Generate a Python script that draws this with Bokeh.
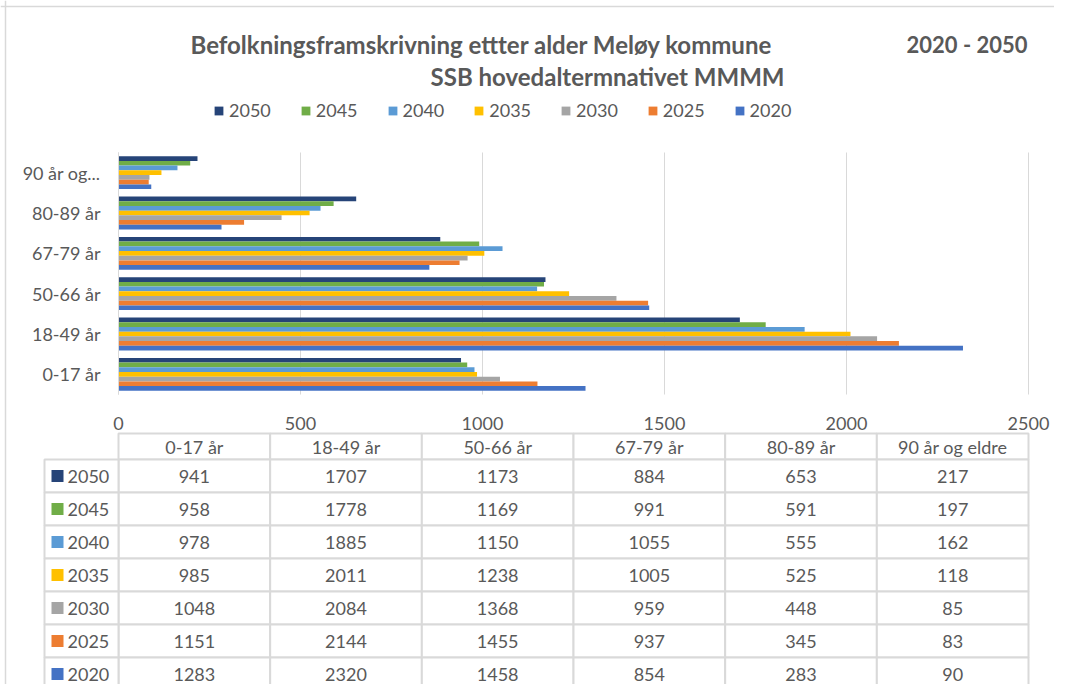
from bokeh.plotting import figure
from bokeh.models import (Range1d, Legend, LegendItem, Label, LinearAxis, FixedTicker, Span)
from bokeh.core.properties import value
from bokeh.embed import file_html
from bokeh.resources import INLINE

# ---------------- data ----------------
categories = ["0-17 år", "18-49 år", "50-66 år", "67-79 år", "80-89 år", "90 år og eldre"]
axis_labels = ["0-17 år", "18-49 år", "50-66 år", "67-79 år", "80-89 år", "90 år og..."]
years = ["2050", "2045", "2040", "2035", "2030", "2025", "2020"]
v2050 = [941, 1707, 1173, 884, 653, 217]
v2045 = [958, 1778, 1169, 991, 591, 197]
v2040 = [978, 1885, 1150, 1055, 555, 162]
v2035 = [985, 2011, 1238, 1005, 525, 118]
v2030 = [1048, 2084, 1368, 959, 448, 85]
v2025 = [1151, 2144, 1455, 937, 345, 83]
v2020 = [1283, 2320, 1458, 854, 283, 90]
series = [v2050, v2045, v2040, v2035, v2030, v2025, v2020]
colors = ["#264478", "#70AD47", "#5B9BD5", "#FFC000", "#A5A5A5", "#ED7D31", "#4472C4"]
x_ticks = [0, 500, 1000, 1500, 2000, 2500]

title1 = "Befolkningsframskrivning ettter alder Meløy kommune"
title2 = "SSB hovedaltermnativet MMMM"
title3 = "2020 - 2050"

FONT = "Lato"
TXT = "#595959"
GRID = "#D9D9D9"

# ---------------- layout constants (canvas pixels) ----------------
W, H = 1054, 684
PX0, PX1 = 118, 1028               # x pixel of 0 and of x_max
PLOT_TOP, PLOT_BOT = 152, 394      # y pixel range of the bar area
ROW_H = 33.0                       # table row height (px)
TBL_BOTTOM = 690                   # y pixel of table bottom
HDR_H = 26.0                       # header row height (px)
LBL_PX = 74                        # row-label column width (px)

x_max = x_ticks[-1]
u = x_max / (PX1 - PX0)            # data units per pixel
ncat = len(categories)
band = (PLOT_BOT - PLOT_TOP) / ncat

def cat_at(py):                    # category-index coordinate at pixel y
    return (PLOT_BOT - py) / band - 0.5

def row_at(py):                    # table row coordinate at pixel y
    return (TBL_BOTTOM - py) / ROW_H

p = figure(width=W, height=H,
           x_range=Range1d(-PX0 * u, (W - PX0) * u),
           y_range=Range1d(cat_at(H), cat_at(0)),
           x_axis_type=None, y_axis_type=None,
           min_border=0, min_border_left=0, min_border_right=0, min_border_top=0, min_border_bottom=0,
           output_backend="svg", toolbar_location=None)
p.extra_y_ranges = {"row": Range1d(row_at(H), row_at(0))}
p.outline_line_color = None
p.background_fill_color = "white"
p.border_fill_color = "white"

# chart border (top and left)
p.add_layout(Span(location=(5 - PX0) * u, dimension="height", line_color=GRID, line_width=1.5))
p.add_layout(Span(location=cat_at(6), dimension="width", line_color=GRID, line_width=1.5))

# gridlines
p.segment(x0=x_ticks, x1=x_ticks, y0=[-0.5] * len(x_ticks), y1=[ncat - 0.5] * len(x_ticks),
          line_color=GRID, line_width=1)

# bars
n = len(years)
bar_h = 0.815 / n
renderers = []
for j, (yr, s, col) in enumerate(zip(years, series, colors)):
    off = ((n - 1 - j) - (n - 1) / 2) * bar_h
    r = p.hbar(y=[i + off for i in range(ncat)], left=0, right=s, height=bar_h,
               fill_color=col, line_color=None)
    renderers.append(r)

# axes drawn inside the canvas
xa = LinearAxis(fixed_location=-0.5, ticker=FixedTicker(ticks=x_ticks), bounds=(0, x_max))
xa.axis_line_color = None
xa.major_tick_line_color = None
xa.minor_tick_line_color = None
xa.major_label_standoff = 16
xa.major_label_text_font = FONT
xa.major_label_text_font_size = "18px"
xa.major_label_text_color = TXT
p.add_layout(xa, "below")

ya = LinearAxis(fixed_location=0, ticker=FixedTicker(ticks=list(range(ncat))), bounds=(-0.5, ncat - 0.5))
ya.axis_line_color = GRID
ya.major_tick_line_color = None
ya.minor_tick_line_color = None
ya.major_label_standoff = 12
ya.major_label_text_font = FONT
ya.major_label_text_font_size = "18px"
ya.major_label_text_color = TXT
ya.major_label_overrides = {i: a for i, a in enumerate(axis_labels)}
p.add_layout(ya, "left")

# legend
legend = Legend(items=[LegendItem(label=y, renderers=[r]) for y, r in zip(years, renderers)],
                orientation="horizontal", location=(213, H - 121),
                glyph_width=11, glyph_height=11, label_standoff=5, spacing=29,
                padding=0, margin=0, border_line_color=None, background_fill_alpha=0,
                label_text_font=FONT, label_text_font_size="18px", label_text_color=TXT,
                label_height=18)
p.add_layout(legend, "center")

# titles
common = dict(x_units="screen", y_units="screen", text_font=FONT,
              text_font_style="bold", text_color=TXT, text_baseline="alphabetic")
p.add_layout(Label(x=190, y=H - 44, text=title1, text_align="left", text_font_size="24px", **common))
p.add_layout(Label(x=784, y=H - 76, text=title2, text_align="right", text_font_size="24px", **common))
p.add_layout(Label(x=1027, y=H - 44, text=title3, text_align="right", text_font_size="22px", **common))

# ---------------- data table ----------------
colw = x_max / ncat
lblw = LBL_PX * u
hdr = HDR_H / ROW_H
txt_kw = dict(text_baseline="middle", text_font=value(FONT), text_font_size="18px",
              text_color=TXT, y_range_name="row")
cell_kw = dict(fill_color="white", line_color=GRID, line_width=2, y_range_name="row")

hx = [(i + 0.5) * colw for i in range(ncat)]
hy = [n + hdr / 2] * ncat
p.rect(x=hx, y=hy, width=colw, height=hdr, **cell_kw)
p.text(x=hx, y=hy, text=categories, text_align="center", **txt_kw)

cx, cy, ct = [], [], []
for j, s in enumerate(series):
    row = n - 1 - j
    for i, v in enumerate(s):
        cx.append((i + 0.5) * colw)
        cy.append(row + 0.5)
        ct.append(str(v))
p.rect(x=cx, y=cy, width=colw, height=1, **cell_kw)
p.text(x=cx, y=cy, text=ct, text_align="center", **txt_kw)

ry = [n - 1 - j + 0.5 for j in range(n)]
p.rect(x=[-lblw / 2] * n, y=ry, width=lblw, height=1, **cell_kw)
p.rect(x=[-lblw + 13 * u] * n, y=ry, width=12, height=12, width_units="screen", height_units="screen",
       fill_color=colors, line_color=None, y_range_name="row")
p.text(x=[-lblw + 23 * u] * n, y=ry, text=years, text_align="left", **txt_kw)

open("out.html", "w").write(file_html(p, INLINE))
